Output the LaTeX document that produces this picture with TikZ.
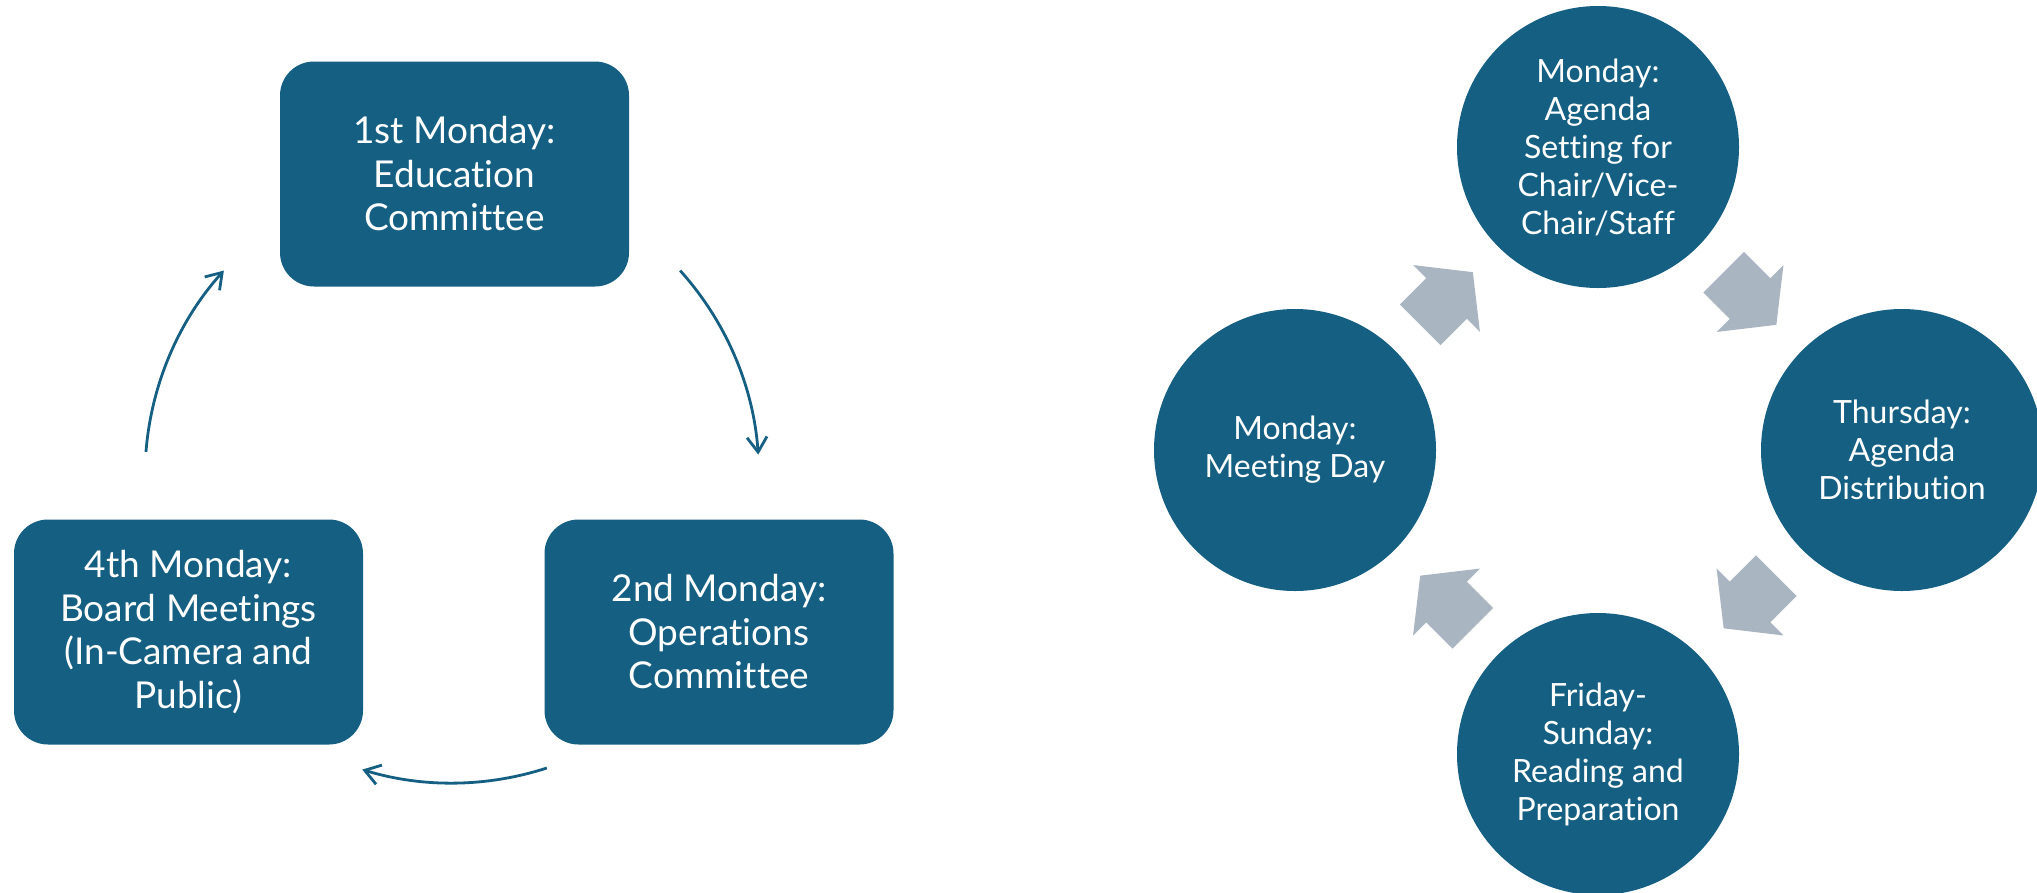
\documentclass[tikz,border=0pt]{standalone}
\usepackage{fontspec}
\setmainfont{Lato}[Ligatures=NoCommon]
\usetikzlibrary{arrows.meta,calc}
\definecolor{tealblue}{HTML}{156082}
\definecolor{arrowgray}{HTML}{A9B6C2}
\tikzset{
  box/.style={fill=tealblue, rounded corners=34pt, minimum width=349pt, minimum height=225pt,
    text=white, align=center, font=\fontsize{37}{43.5}\selectfont, inner sep=0pt},
  disc/.style={circle, fill=tealblue, minimum size=282pt, text=white, align=center,
    font=\fontsize{32}{38}\selectfont, inner sep=0pt},
  cyc/.style={draw=tealblue, line width=2.8pt,
    -{Straight Barb[length=15pt,width=20pt,line width=2.8pt]}},
  blockarrow/.pic={\fill[arrowgray] (-37.25pt,-28.75pt) -- (0pt,-28.75pt) -- (0pt,-47.3pt)
    -- (37.25pt,0pt) -- (0pt,47.3pt) -- (0pt,28.75pt) -- (-37.25pt,28.75pt) -- cycle;}
}
\begin{document}
\begin{tikzpicture}[x=1pt,y=-1pt]
\useasboundingbox (0,0) rectangle (2037,892);
\clip (0,0) rectangle (2037,892);

% left cycle
\node[box] (edu) at (454.5,174) {1st Monday:\\Education\\Committee};
\node[box] (ops) at (719,632) {2nd Monday:\\Operations\\Committee};
\node[box] (brd) at (188.5,632) {4th Monday:\\Board Meetings\\(In-Camera and\\Public)};

\coordinate (ring) at (452,476);
\coordinate (a1s) at ($(ring)+(42:307pt)$);
\coordinate (a2s) at ($(ring)+(-72:307pt)$);
\coordinate (a3s) at ($(ring)+(175.5:307pt)$);
\draw[cyc] (a1s) arc[start angle=42, end angle=4, radius=307pt];
\draw[cyc] (a2s) arc[start angle=-72, end angle=-107, radius=307pt];
\draw[cyc] (a3s) arc[start angle=175.5, end angle=138, radius=307pt];

% right cycle
\node[disc] (agset) at (1598,147) {Monday:\\Agenda\\Setting for\\Chair/Vice-\\Chair/Staff};
\node[disc] (agdist) at (1902,450) {Thursday:\\Agenda\\Distribution};
\node[disc] (read) at (1598,754) {Friday-\\Sunday:\\Reading and\\Preparation};
\node[disc] (meet) at (1295,450) {Monday:\\Meeting Day};

\pic[rotate=-45] at (1750,298.5) {blockarrow};
\pic[rotate=-135] at (1750,602) {blockarrow};
\pic[rotate=135] at (1446.5,602) {blockarrow};
\pic[rotate=45] at (1446.5,298.5) {blockarrow};
\end{tikzpicture}
\end{document}
